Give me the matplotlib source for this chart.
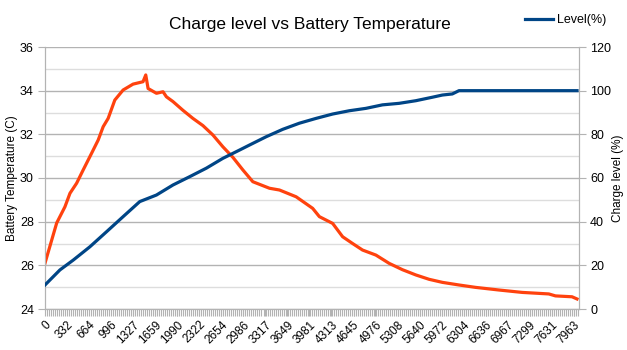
import matplotlib
matplotlib.use("Agg")
import matplotlib.pyplot as plt
import numpy as np

plt.rcParams['font.family'] = ['Liberation Sans', 'DejaVu Sans']

# Data
temp_x = [0, 176, 300, 376, 476, 575, 701, 801, 876, 951, 1051, 1176, 1326, 1476,
          1517, 1552, 1678, 1777, 1828, 1927, 2077, 2227, 2378, 2528, 2678, 2828,
          2979, 3129, 3380, 3530, 3781, 4030, 4131, 4331, 4481, 4631, 4781, 4982,
          5182, 5382, 5583, 5783, 5983, 6233, 6484, 6834, 7184, 7585, 7686, 7935, 8010]
temp_c = [26.1, 27.94, 28.68, 29.3, 29.76, 30.37, 31.13, 31.74, 32.35, 32.73, 33.57,
          34.03, 34.3, 34.41, 34.72, 34.1, 33.88, 33.95, 33.72, 33.5, 33.1, 32.73,
          32.4, 31.97, 31.43, 30.95, 30.37, 29.83, 29.53, 29.45, 29.14, 28.61, 28.23,
          27.92, 27.31, 27.0, 26.7, 26.47, 26.09, 25.8, 25.56, 25.36, 25.22, 25.1,
          24.99, 24.87, 24.76, 24.69, 24.6, 24.56, 24.46]

level_x = [0, 225, 425, 676, 927, 1176, 1427, 1678, 1927, 2178, 2429, 2678, 2929,
           3079, 3330, 3580, 3830, 4081, 4331, 4581, 4832, 5081, 5332, 5583, 5833,
           5983, 6133, 6233, 8010]
level_pct = [11.0, 17.9, 22.4, 28.5, 35.4, 42.3, 49.2, 52.2, 56.8, 60.6, 64.5, 69.0,
             72.8, 75.1, 78.9, 82.3, 85.1, 87.3, 89.3, 90.8, 91.9, 93.5, 94.2, 95.4,
             97.0, 98.0, 98.5, 100.0, 100.0]

xtick_labels = ['0', '332', '664', '996', '1327', '1659', '1990', '2322', '2654',
                '2986', '3317', '3649', '3981', '4313', '4645', '4976', '5308',
                '5640', '5972', '6304', '6636', '6967', '7299', '7631', '7963']

ORANGE = '#ff420e'
BLUE = '#004586'
GRID_MAJ = '#b3b3b3'
GRID_MIN = '#dddddd'

fig = plt.figure(figsize=(6.27, 3.5), dpi=100)
ax = fig.add_axes([45/627, 1-309/350, (579-45)/627, (309-47)/350])
ax2 = ax.twinx()

xt = [float(v) for v in xtick_labels]
xmax = 8040

ax.set_xlim(0, xmax)
ax.set_ylim(24, 36)
ax2.set_ylim(0, 120)

# grids
ax.set_yticks(np.arange(24, 37, 2))
ax.set_yticks(np.arange(25, 36, 2), minor=True)
ax.yaxis.grid(True, which='major', color=GRID_MAJ, lw=1)
ax.yaxis.grid(True, which='minor', color=GRID_MIN, lw=1)
ax.tick_params(axis='y', which='minor', length=0)
ax.set_axisbelow(True)

ax.set_xticks(xt)
ax.set_xticklabels(xtick_labels, rotation=45, ha='right', rotation_mode='anchor', fontsize=8.5)
ax.set_xticks(np.arange(0, xmax, 332/11), minor=True)
ax.tick_params(axis='x', which='both', color=GRID_MAJ, length=5, width=0.8, pad=2)
ax.tick_params(axis='y', which='major', color=GRID_MAJ, length=5, labelsize=9, pad=3)

ax2.set_yticks(np.arange(0, 121, 20))
ax2.tick_params(axis='y', color=GRID_MAJ, length=5, labelsize=9, pad=3)

for a in (ax, ax2):
    for s in a.spines.values():
        s.set_color(GRID_MAJ)
    a.spines['top'].set_visible(False)

ax.plot(temp_x, temp_c, color=ORANGE, lw=2.3, solid_joinstyle='round', zorder=3)
ax2.plot(level_x, level_pct, color=BLUE, lw=2.3, label='Level(%)', solid_joinstyle='round', zorder=3)

ax.set_ylabel('Battery Temperature (C)', fontsize=8.5, labelpad=1)
ax2.set_ylabel('Charge level (%)', fontsize=8.5, labelpad=1)

fig.text(310/627, 1-25/350, 'Charge level vs Battery Temperature', ha='center', va='center', fontsize=12.5)

fig.legend(handles=ax2.get_lines(), loc='center left', bbox_to_anchor=(525/627, 1-20/350),
           frameon=False, fontsize=9, handlelength=2.2, handletextpad=0.4, borderaxespad=0, borderpad=0)

fig.savefig('out.png', dpi=100)
